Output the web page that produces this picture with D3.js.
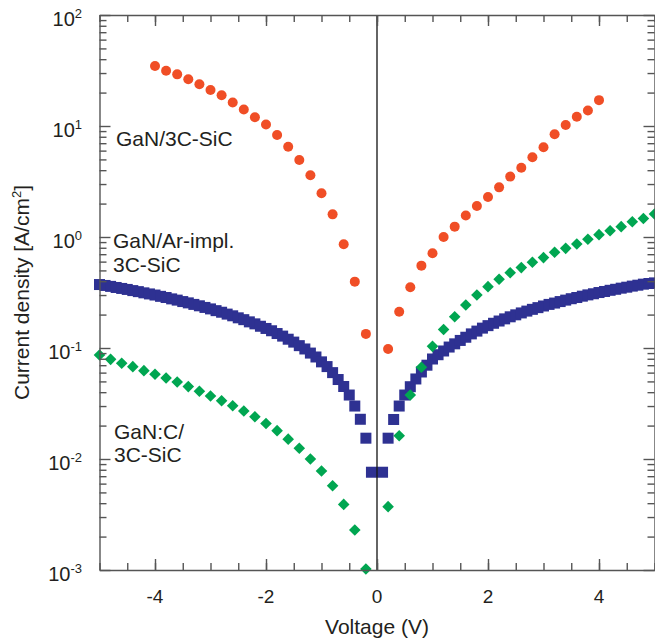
<!DOCTYPE html>
<html>
<head>
<meta charset="utf-8">
<script src="https://cdn.jsdelivr.net/npm/d3@7/dist/d3.min.js"></script>
<style>
  body { margin: 0; background: #fff; }
  text { font-family: "Liberation Sans", Arial, Helvetica, sans-serif; fill: #231f20; }
  .axis path, .axis line { stroke: #555; stroke-width: 1.4; }
  .axis text { font-size: 19px; fill: #231f20; }
</style>
</head>
<body>
<div id="app"></div>
<script>
/* globals d3 */
// DATA
// GaN/3C-SiC (red circles)
const redVoltage = [
  -4.0, -3.8, -3.6, -3.4, -3.2, -3.0, -2.8, -2.6, -2.4, -2.2,
  -2.0, -1.8, -1.6, -1.4, -1.2, -1.0, -0.8, -0.6, -0.4, -0.2,
   0.2,  0.4,  0.6,  0.8,  1.0,  1.2,  1.4,  1.6,  1.8,  2.0,
   2.2,  2.4,  2.6,  2.8,  3.0,  3.2,  3.4,  3.6,  3.8,  4.0
];
const redCurrent = [
  34.7, 31.5, 29.2, 26.4, 23.8, 21.1, 18.9, 16.3, 14.1, 12.0,
  10.3, 8.3, 6.5, 4.94, 3.6, 2.48, 1.60, 0.86, 0.396, 0.134,
  0.098, 0.212, 0.352, 0.552, 0.713, 1.0, 1.24, 1.56, 1.90, 2.29,
  2.80, 3.50, 4.21, 5.22, 6.43, 8.42, 10.2, 12.1, 13.8, 17.1
];

// GaN/Ar-impl. 3C-SiC (blue squares)
const blueVoltage = [
  -5.0, -4.9, -4.8, -4.7, -4.6, -4.5, -4.4, -4.3, -4.2, -4.1,
  -4.0, -3.9, -3.8, -3.7, -3.6, -3.5, -3.4, -3.3, -3.2, -3.1,
  -3.0, -2.9, -2.8, -2.7, -2.6, -2.5, -2.4, -2.3, -2.2, -2.1,
  -2.0, -1.9, -1.8, -1.7, -1.6, -1.5, -1.4, -1.3, -1.2, -1.1,
  -1.0, -0.9, -0.8, -0.7, -0.6, -0.5, -0.4, -0.3, -0.2, -0.1,
   0.1,  0.2,  0.3,  0.4,  0.5,  0.6,  0.7,  0.8,  0.9,  1.0,
   1.1,  1.2,  1.3,  1.4,  1.5,  1.6,  1.7,  1.8,  1.9,  2.0,
   2.1,  2.2,  2.3,  2.4,  2.5,  2.6,  2.7,  2.8,  2.9,  3.0,
   3.1,  3.2,  3.3,  3.4,  3.5,  3.6,  3.7,  3.8,  3.9,  4.0,
   4.1,  4.2,  4.3,  4.4,  4.5,  4.6,  4.7,  4.8,  4.9,  5.0
];
const blueCurrent = [
  0.373, 0.366, 0.359, 0.351, 0.344, 0.337, 0.329, 0.322, 0.314, 0.307,
  0.300, 0.292, 0.285, 0.277, 0.270, 0.262, 0.255, 0.247, 0.240, 0.232,
  0.225, 0.217, 0.210, 0.202, 0.195, 0.187, 0.180, 0.172, 0.165, 0.157,
  0.150, 0.143, 0.135, 0.128, 0.120, 0.113, 0.105, 0.098, 0.090, 0.083,
  0.075, 0.068, 0.060, 0.052, 0.045, 0.0377, 0.030, 0.0228, 0.0154, 0.0076,
  0.0076, 0.0154, 0.0227, 0.0300, 0.0377, 0.0448, 0.0526, 0.0608, 0.070, 0.0796,
  0.087, 0.094, 0.102, 0.109, 0.117, 0.125, 0.134, 0.142, 0.151, 0.159,
  0.167, 0.175, 0.183, 0.191, 0.199, 0.207, 0.215, 0.223, 0.231, 0.239,
  0.247, 0.254, 0.262, 0.270, 0.278, 0.285, 0.293, 0.301, 0.308, 0.316,
  0.323, 0.331, 0.338, 0.346, 0.353, 0.361, 0.368, 0.376, 0.381, 0.386
];

// GaN:C/3C-SiC (green diamonds)
const greenVoltage = [
  -5.0, -4.8, -4.6, -4.4, -4.2, -4.0, -3.8, -3.6, -3.4, -3.2,
  -3.0, -2.8, -2.6, -2.4, -2.2, -2.0, -1.8, -1.6, -1.4, -1.2,
  -1.0, -0.8, -0.6, -0.4, -0.2,
   0.2,  0.4,  0.6,  0.8,  1.0,  1.2,  1.4,  1.6,  1.8,  2.0,
   2.2,  2.4,  2.6,  2.8,  3.0,  3.2,  3.4,  3.6,  3.8,  4.0,
   4.2,  4.4,  4.6,  4.8,  5.0
];
const greenCurrent = [
  0.0865, 0.079, 0.0728, 0.0679, 0.0625, 0.058, 0.0537, 0.0494, 0.0449, 0.0408,
  0.037, 0.0335, 0.0302, 0.0271, 0.024, 0.0209, 0.018, 0.0151, 0.0125, 0.0100,
  0.0078, 0.00574, 0.0039, 0.00229, 0.00102,
  0.00372, 0.0162, 0.0377, 0.067, 0.1035, 0.147, 0.191, 0.244, 0.300, 0.357,
  0.416, 0.477, 0.530, 0.592, 0.652, 0.728, 0.790, 0.865, 0.953, 1.05,
  1.14, 1.24, 1.37, 1.47, 1.61
];

// TICKS
const xMinorTicks = [-5, -4.5, -4, -3.5, -3, -2.5, -2, -1.5, -1, -0.5, 0,
                     0.5, 1, 1.5, 2, 2.5, 3, 3.5, 4, 4.5, 5];
const xLabelTicks = [-4, -2, 0, 2, 4];
const yDecadeExponents = [-3, -2, -1, 0, 1, 2];

// LAYOUT
const WIDTH = 655;
const HEIGHT = 642;
const LEFT = 99.5, RIGHT = 654.5, TOP = 15, BOTTOM = 570;

const RED = '#f04e26';
const BLUE = '#2e3192';
const GREEN = '#00a651';

const $svg = d3.select('#app')
  .append('svg')
  .attr('width', WIDTH)
  .attr('height', HEIGHT);

const x = d3.scaleLinear().domain([-5, 5]).range([LEFT, RIGHT]);
const y = d3.scaleLog().domain([1e-3, 1e2]).range([BOTTOM, TOP]);

const yMajor = yDecadeExponents.map(e => Math.pow(10, e));
const yMinor = y.ticks().filter(v => !yMajor.some(m => Math.abs(v / m - 1) < 1e-6));

function zip(xs, ys) {
  return xs.map((v, i) => ({ v: v, j: ys[i] }));
}

// MARKS
// blue squares
$svg.append('g')
  .selectAll('rect')
  .data(zip(blueVoltage, blueCurrent))
  .enter()
    .append('rect')
    .attr('x', d => x(d.v) - 5.5)
    .attr('y', d => y(d.j) - 5.5)
    .attr('width', 11)
    .attr('height', 11)
    .attr('fill', BLUE);

// green diamonds
$svg.append('g')
  .selectAll('path')
  .data(zip(greenVoltage, greenCurrent))
  .enter()
    .append('path')
    .attr('d', 'M0,-5.8L5.8,0L0,5.8L-5.8,0Z')
    .attr('transform', d => `translate(${x(d.v)},${y(d.j)})`)
    .attr('fill', GREEN);

// red circles
$svg.append('g')
  .selectAll('circle')
  .data(zip(redVoltage, redCurrent))
  .enter()
    .append('circle')
    .attr('cx', d => x(d.v))
    .attr('cy', d => y(d.j))
    .attr('r', 5)
    .attr('fill', RED);

// zero line
$svg.append('line')
  .attr('x1', x(0)).attr('x2', x(0))
  .attr('y1', TOP).attr('y2', BOTTOM)
  .attr('stroke', '#111')
  .attr('stroke-width', 1.3);

// AXES
function axisPair(axisFn, scale, minor, major, minorLen, majorLen, translate) {
  const g = $svg.append('g').attr('class', 'axis').attr('transform', translate);
  g.append('g').call(axisFn(scale).tickValues(minor).tickSize(-minorLen).tickSizeOuter(0).tickFormat(''));
  const gm = g.append('g').call(axisFn(scale).tickValues(major).tickSize(-majorLen).tickSizeOuter(0).tickFormat(''));
  gm.select('.domain').remove();
  return gm;
}

const $bottom = axisPair(d3.axisBottom, x, xMinorTicks, xLabelTicks, 7, 11, `translate(0,${BOTTOM})`);
axisPair(d3.axisTop, x, xMinorTicks, xLabelTicks, 7, 11, `translate(0,${TOP})`);
axisPair(d3.axisLeft, y, yMinor, yMajor, 7, 11, `translate(${LEFT},0)`);
axisPair(d3.axisRight, y, yMinor, yMajor, 7, 11, `translate(${RIGHT},0)`);

// x tick labels
$svg.append('g')
  .selectAll('text')
  .data(xLabelTicks)
  .enter()
    .append('text')
    .attr('x', d => x(d))
    .attr('y', BOTTOM + 33)
    .attr('text-anchor', 'middle')
    .style('font-size', '19px')
    .text(d => String(d));

// y tick labels (10^n)
const $ylab = $svg.append('g')
  .selectAll('text')
  .data(yDecadeExponents)
  .enter()
    .append('text')
    .attr('x', 82)
    .attr('y', d => y(Math.pow(10, d)) + 11)
    .attr('text-anchor', 'end')
    .style('font-size', '20px');
$ylab.append('tspan').text('10');
$ylab.append('tspan')
  .attr('dy', -8)
  .style('font-size', '13px')
  .text(d => String(d));

// axis titles
$svg.append('text')
  .attr('x', x(0))
  .attr('y', 634)
  .attr('text-anchor', 'middle')
  .style('font-size', '21px')
  .text('Voltage (V)');

const $ytitle = $svg.append('text')
  .attr('transform', `translate(29,${(TOP + BOTTOM) / 2}) rotate(-90)`)
  .attr('text-anchor', 'middle')
  .style('font-size', '21px');
$ytitle.append('tspan').text('Current density [A/cm');
$ytitle.append('tspan').attr('dy', -8).style('font-size', '13px').text('2');
$ytitle.append('tspan').attr('dy', 8).text(']');

// series labels
const seriesLabels = [
  { lines: ['GaN/3C-SiC'], x: 116, y: 145.5 },
  { lines: ['GaN/Ar-impl.', '3C-SiC'], x: 113, y: 248 },
  { lines: ['GaN:C/', '3C-SiC'], x: 114, y: 438.5 }
];

seriesLabels.forEach(lbl => {
  const t = $svg.append('text')
    .attr('x', lbl.x)
    .attr('y', lbl.y)
    .style('font-size', '21px');
  lbl.lines.forEach((line, i) => {
    t.append('tspan')
      .attr('x', lbl.x)
      .attr('dy', i === 0 ? 0 : 23.7)
      .text(line);
  });
});
</script>
</body>
</html>
